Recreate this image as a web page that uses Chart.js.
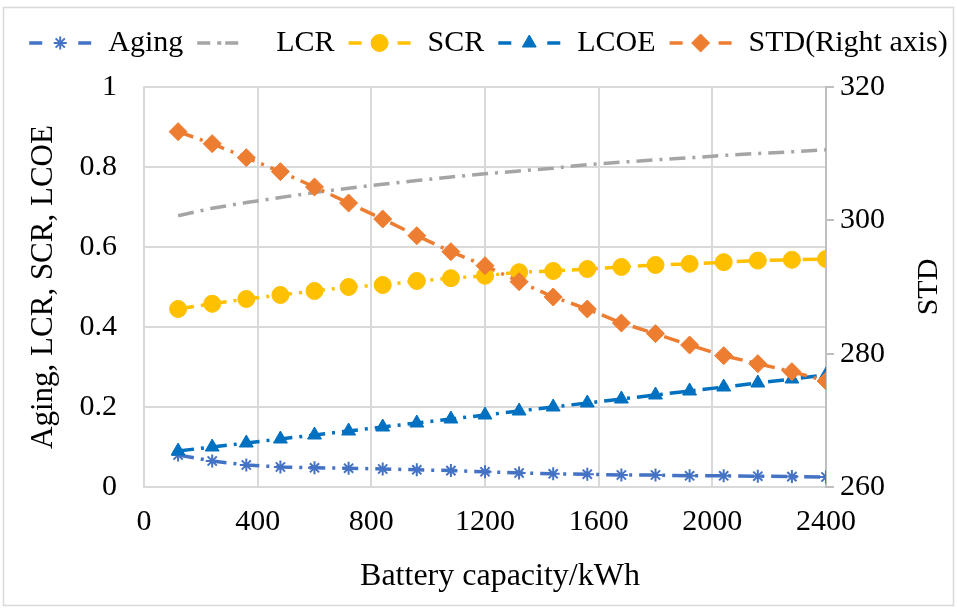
<!DOCTYPE html>
<html>
<head>
<meta charset="utf-8">
<script src="https://cdn.jsdelivr.net/npm/chart.js@4.4.0/dist/chart.umd.min.js"></script>
<style>
  html, body { margin: 0; padding: 0; background: #fff; }
  #wrap { width: 957px; height: 610px; position: relative; }
</style>
</head>
<body>
<div id="wrap"><canvas id="grafico" width="957" height="610"></canvas></div>
<script>
// Capacidade da bateria (kWh) e os indicadores de cada caso
const capacidade = [120, 240, 360, 480, 600, 720, 840, 960, 1080, 1200,
                    1320, 1440, 1560, 1680, 1800, 1920, 2040, 2160, 2280, 2400];
const aging = [0.080, 0.065, 0.055, 0.050, 0.048, 0.047, 0.045, 0.043, 0.041, 0.038,
               0.035, 0.033, 0.032, 0.030, 0.030, 0.028, 0.028, 0.027, 0.026, 0.025];
const lcr = [0.678, 0.697, 0.711, 0.724, 0.736, 0.747, 0.757, 0.766, 0.775, 0.783,
             0.790, 0.797, 0.806, 0.812, 0.818, 0.823, 0.829, 0.834, 0.838, 0.843];
const scr = [0.445, 0.458, 0.470, 0.480, 0.490, 0.500, 0.505, 0.515, 0.522, 0.528,
             0.537, 0.540, 0.545, 0.550, 0.555, 0.558, 0.562, 0.566, 0.568, 0.570];
const lcoe = [0.09, 0.10, 0.11, 0.12, 0.13, 0.14, 0.15, 0.16, 0.17, 0.18,
              0.19, 0.20, 0.21, 0.22, 0.23, 0.24, 0.25, 0.26, 0.27, 0.28];
const std = [313.3, 311.5, 309.4, 307.3, 305.0, 302.6, 300.2, 297.7, 295.3, 293.2,
             290.8, 288.5, 286.7, 284.6, 283.0, 281.3, 279.7, 278.5, 277.3, 275.9];

// Ticks dos eixos
const ticksX = [0, 400, 800, 1200, 1600, 2000, 2400];
const ticksEsq = [0, 0.2, 0.4, 0.6, 0.8, 1];
const ticksDir = [260, 280, 300, 320];

const fonte = 'Liberation Serif';
const tracejado = [16, 7, 3, 7];

// junta x e y para o eixo linear
const pontos = serie => serie.map((v, i) => ({ x: capacidade[i], y: v }));
// rótulo sem separador de milhar e sem ".0"
const rotulo = v => String(Math.round(v * 1000) / 1000);

function criaSerie(label, serie, cor, estilo, raio, ordem, eixo) {
  return {
    label: label,
    data: pontos(serie),
    yAxisID: eixo || 'y',
    borderColor: cor,
    backgroundColor: cor,
    borderWidth: 3.5,
    borderDash: tracejado,
    borderCapStyle: 'butt',
    pointStyle: estilo,
    pointRadius: raio,
    pointHoverRadius: raio,
    pointBorderWidth: estilo === 'star' ? 2 : 1,
    pointBorderColor: cor,
    pointBackgroundColor: cor,
    tension: 0,
    order: ordem
  };
}

// Fundo branco e moldura cinza
const moldura = {
  id: 'moldura',
  beforeDraw(chart) {
    const ctx = chart.ctx;
    ctx.save();
    ctx.fillStyle = '#fff';
    ctx.fillRect(0, 0, chart.width, chart.height);
    ctx.strokeStyle = '#d9d9d9';
    ctx.lineWidth = 1.5;
    ctx.strokeRect(3.5, 7.5, 950, 598);
    ctx.restore();
  }
};

// Legenda desenhada à mão: traço - marcador - traço
const legenda = {
  id: 'legenda',
  afterDraw(chart) {
    const ctx = chart.ctx;
    ctx.save();
    ctx.font = '30px "' + fonte + '"';
    ctx.textBaseline = 'middle';
    const amostra = 62, gapTexto = 17, gapItem = 14, y = 43;
    const itens = chart.data.datasets.map(ds => ({ ds, w: ctx.measureText(ds.label).width }));
    const total = itens.reduce((a, it) => a + amostra + gapTexto + it.w, 0) + gapItem * (itens.length - 1);
    let x = (chart.width - total) / 2 + 10;
    itens.forEach(it => {
      const ds = it.ds;
      ctx.strokeStyle = ds.borderColor;
      ctx.fillStyle = ds.borderColor;
      ctx.lineWidth = 3.5;
      ctx.lineCap = 'butt';
      ctx.beginPath();
      if (ds.pointRadius > 0) {
        ctx.moveTo(x, y); ctx.lineTo(x + 13, y);
        ctx.moveTo(x + amostra - 13, y); ctx.lineTo(x + amostra, y);
        ctx.stroke();
        ctx.lineWidth = ds.pointBorderWidth;
        Chart.helpers.drawPoint(ctx, {
          pointStyle: ds.pointStyle, radius: ds.pointRadius, rotation: 0,
          borderWidth: ds.pointBorderWidth
        }, x + amostra / 2, y);
      } else {
        ctx.setLineDash([13, 7, 4, 4, 13, 30]);
        ctx.moveTo(x, y); ctx.lineTo(x + amostra, y);
        ctx.stroke();
        ctx.setLineDash([]);
      }
      ctx.fillStyle = '#000';
      ctx.fillText(ds.label, x + amostra + gapTexto, y);
      x += amostra + gapTexto + it.w + gapItem;
    });
    ctx.restore();
  }
};

// Títulos do eixo x e do eixo secundário (este lido de baixo para cima)
const titulos = {
  id: 'titulos',
  afterDraw(chart) {
    const area = chart.chartArea;
    const ctx = chart.ctx;
    ctx.save();
    ctx.fillStyle = '#000';
    ctx.textAlign = 'center';
    ctx.textBaseline = 'middle';
    ctx.font = '32px "' + fonte + '"';
    ctx.fillText('Battery capacity/kWh', 500, 577);
    ctx.font = '30px "' + fonte + '"';
    ctx.translate(929, (area.top + area.bottom) / 2);
    ctx.rotate(-Math.PI / 2);
    ctx.fillText('STD', 0, 0);
    ctx.restore();
  }
};

const ctx = document.getElementById('grafico').getContext('2d');
const grafico = new Chart(ctx, {
  type: 'line',
  data: {
    datasets: [
      criaSerie('Aging', aging, '#4472C4', 'star', 6.5, 4),
      criaSerie('LCR', lcr, '#A5A5A5', 'circle', 0, 3),
      criaSerie('SCR', scr, '#FFC000', 'circle', 8.5, 2),
      criaSerie('LCOE', lcoe, '#0070C0', 'triangle', 8, 1),
      criaSerie('STD(Right axis)', std, '#ED7D31', 'rectRot', 9, 0, 'y2')
    ]
  },
  options: {
    responsive: false,
    animation: false,
    devicePixelRatio: 1,
    layout: { padding: { left: 5, right: 5, top: 87, bottom: 5 } },
    plugins: {
      legend: { display: false },
      tooltip: { enabled: false }
    },
    scales: {
      x: {
        type: 'linear',
        min: ticksX[0],
        max: ticksX[ticksX.length - 1],
        afterBuildTicks: s => { s.ticks = ticksX.map(v => ({ value: v })); },
        afterFit: s => { s.height = 118; },
        grid: { color: '#d9d9d9', lineWidth: 2, drawTicks: false },
        border: { color: '#d9d9d9', width: 2 },
        ticks: { color: '#000', font: { family: fonte, size: 30 }, padding: 17, maxRotation: 0, callback: rotulo }
      },
      y: {
        position: 'left',
        min: ticksEsq[0],
        max: ticksEsq[ticksEsq.length - 1],
        afterBuildTicks: s => { s.ticks = ticksEsq.map(v => ({ value: v })); },
        afterFit: s => { s.width = 139; },
        grid: { color: '#d9d9d9', lineWidth: 2, drawTicks: false },
        border: { color: '#d9d9d9', width: 2 },
        ticks: { color: '#000', font: { family: fonte, size: 30 }, padding: 27, callback: rotulo },
        title: {
          display: true, text: 'Aging, LCR, SCR, LCOE', color: '#000',
          font: { family: fonte, size: 31 }, padding: { top: 20, bottom: 0 }
        }
      },
      y2: {
        position: 'right',
        min: ticksDir[0],
        max: ticksDir[ticksDir.length - 1],
        afterBuildTicks: s => { s.ticks = ticksDir.map(v => ({ value: v })); },
        afterFit: s => { s.width = 126; },
        grid: { drawOnChartArea: false, color: '#bfbfbf', lineWidth: 2, drawTicks: true, tickLength: 8 },
        border: { color: '#bfbfbf', width: 2 },
        ticks: { color: '#000', font: { family: fonte, size: 30 }, padding: 6, callback: rotulo }
      }
    }
  },
  plugins: [moldura, legenda, titulos]
});
</script>
</body>
</html>
